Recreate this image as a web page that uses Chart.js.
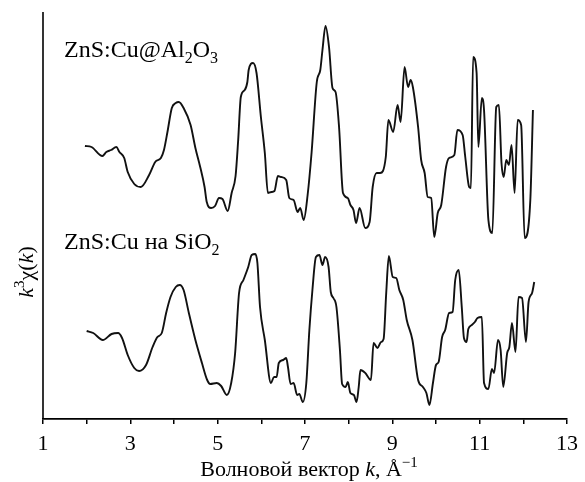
<!DOCTYPE html>
<html>
<head>
<meta charset="utf-8">
<script src="https://cdn.jsdelivr.net/npm/chart.js@4.4.1/dist/chart.umd.min.js"></script>
<style>
  body { margin: 0; background: #fff; }
  #wrap { width: 585px; height: 482px; }
</style>
</head>
<body>
<div id="wrap"><canvas id="chart" width="585" height="482"></canvas></div>
<script>
const SERIF = '"Liberation Serif", "Times New Roman", serif';

// x ticks (only odd ones get a label)
const kTicks = [1, 2, 3, 4, 5, 6, 7, 8, 9, 10, 11, 12, 13];

// ZnS:Cu@Al2O3 (upper curve, arbitrary units incl. offset)
const alK = [1.96, 2.11, 2.36, 2.45, 2.56, 2.68, 2.75, 2.86, 2.94, 3.09, 3.24, 3.43, 3.57, 3.70, 3.77, 3.85, 3.95, 4.04, 4.11, 4.22,
  4.38, 4.49, 4.60, 4.70, 4.75, 4.85, 4.94, 5.03, 5.11, 5.23, 5.32, 5.41, 5.47, 5.53, 5.62, 5.68, 5.71, 5.81, 5.89, 5.99,
  6.08, 6.15, 6.23, 6.30, 6.38, 6.45, 6.57, 6.64, 6.74, 6.83, 6.89, 6.97, 7.06, 7.15, 7.27, 7.35, 7.40, 7.47, 7.55, 7.63,
  7.70, 7.78, 7.87, 7.98, 8.04, 8.11, 8.17, 8.25, 8.38, 8.48, 8.55, 8.64, 8.72, 8.85, 8.91, 9.02, 9.12, 9.19, 9.28, 9.36,
  9.42, 9.47, 9.59, 9.66, 9.74, 9.81, 9.89, 9.96, 10.04, 10.12, 10.23, 10.30, 10.42, 10.49, 10.61, 10.67, 10.76, 10.80, 10.85, 10.93,
  10.97, 11.05, 11.10, 11.20, 11.29, 11.38, 11.44, 11.50, 11.55, 11.61, 11.67, 11.73, 11.80, 11.87, 11.95, 12.03, 12.16, 12.22];
const alY = [27.3, 27.2, 26.3, 26.7, 26.9, 27.2, 26.7, 26.1, 24.7, 23.5, 23.2, 24.4, 25.7, 26.1, 26.9, 28.7, 31.1, 31.6, 31.7, 31.1,
  29.4, 27.1, 25.2, 23.2, 21.7, 21.1, 21.3, 22.1, 22.0, 20.8, 22.6, 24.3, 27.9, 32.2, 32.9, 33.7, 34.9, 35.6, 34.6, 30.2,
  26.6, 22.6, 22.7, 22.8, 24.3, 24.2, 23.9, 22.1, 21.9, 20.7, 21.1, 19.9, 22.4, 26.6, 33.7, 34.9, 36.9, 39.3, 37.2, 33.1,
  32.7, 29.2, 22.6, 22.1, 21.4, 20.9, 19.6, 21.1, 19.1, 19.7, 23.2, 24.6, 24.6, 26.2, 29.9, 28.7, 31.4, 29.7, 35.2, 33.2,
  33.9, 33.2, 29.2, 25.9, 24.6, 22.2, 22.1, 18.2, 20.6, 21.4, 25.2, 26.1, 26.4, 28.9, 28.4, 26.2, 23.2, 23.1, 36.2, 34.6,
  27.2, 32.1, 30.9, 19.9, 18.6, 31.2, 31.4, 25.6, 24.2, 25.9, 25.4, 27.4, 22.6, 29.9, 29.4, 18.1, 21.9, 30.9];

// ZnS:Cu на SiO2 (lower curve)
const siK = [2.00, 2.15, 2.37, 2.57, 2.72, 2.81, 2.94, 3.09, 3.20, 3.36, 3.51, 3.62, 3.72, 3.82, 3.92, 4.04, 4.13, 4.22, 4.34, 4.49,
  4.64, 4.76, 4.83, 4.98, 5.08, 5.21, 5.31, 5.40, 5.49, 5.59, 5.70, 5.78, 5.86, 5.91, 5.97, 6.08, 6.22, 6.29, 6.35, 6.40,
  6.50, 6.57, 6.61, 6.67, 6.74, 6.82, 6.87, 6.95, 7.03, 7.10, 7.17, 7.25, 7.33, 7.40, 7.46, 7.54, 7.59, 7.65, 7.72, 7.80,
  7.85, 7.93, 7.98, 8.04, 8.12, 8.18, 8.23, 8.27, 8.38, 8.51, 8.57, 8.66, 8.74, 8.80, 8.86, 8.92, 9.01, 9.09, 9.16, 9.25,
  9.33, 9.46, 9.59, 9.70, 9.78, 9.85, 9.93, 10.00, 10.06, 10.14, 10.21, 10.30, 10.38, 10.44, 10.52, 10.59, 10.64, 10.70, 10.74, 10.82,
  10.89, 10.95, 11.05, 11.10, 11.20, 11.28, 11.33, 11.42, 11.48, 11.54, 11.63, 11.68, 11.74, 11.82, 11.89, 11.97, 12.06, 12.12, 12.20, 12.25];
const siY = [8.8, 8.6, 7.9, 8.5, 8.6, 8.1, 6.4, 5.1, 4.8, 5.4, 7.2, 8.2, 8.6, 10.6, 12.2, 13.2, 13.4, 12.9, 10.6, 7.9,
  5.6, 3.9, 3.5, 3.6, 3.3, 2.4, 3.6, 6.6, 12.6, 13.9, 15.2, 16.4, 16.5, 15.6, 11.2, 7.9, 3.6, 4.2, 4.2, 5.6,
  5.9, 6.1, 5.2, 3.5, 3.6, 2.4, 2.5, 1.7, 3.6, 8.9, 12.9, 16.2, 16.4, 15.4, 16.2, 15.2, 12.7, 12.1, 11.2, 6.9,
  3.5, 3.2, 3.7, 2.6, 2.4, 1.7, 3.2, 4.9, 4.6, 3.9, 7.6, 7.1, 7.7, 8.0, 12.6, 16.3, 14.2, 14.1, 12.9, 11.9,
  9.9, 7.9, 3.9, 3.2, 2.6, 1.4, 3.6, 5.4, 5.7, 8.2, 8.9, 10.6, 10.7, 13.9, 14.9, 11.2, 8.1, 7.7, 9.0, 9.4,
  9.7, 10.1, 10.2, 3.6, 3.0, 5.0, 4.6, 7.9, 6.9, 3.2, 6.6, 7.2, 9.6, 6.7, 12.2, 12.1, 7.7, 11.7, 12.6, 13.7];

const yMin = 0;
const yMax = 40.7;

function pts(xs, ys) {
  return xs.map((x, i) => ({ x: x, y: ys[i] }));
}

// draws a run of text pieces (italic / sub / sup) left to right
function drawRich(c, parts, x, y, size) {
  let cx = x;
  parts.forEach((p) => {
    const fs = p.small ? Math.round(size * 0.68) : size;
    c.font = `${p.it ? "italic " : ""}${fs}px ${SERIF}`;
    c.fillText(p.t, cx, y + (p.dy || 0));
    cx += c.measureText(p.t).width + (p.gap || 0);
  });
  return cx - x;
}

function richWidth(c, parts, size) {
  let w = 0;
  parts.forEach((p) => {
    const fs = p.small ? Math.round(size * 0.68) : size;
    c.font = `${p.it ? "italic " : ""}${fs}px ${SERIF}`;
    w += c.measureText(p.t).width + (p.gap || 0);
  });
  return w;
}

const textPlugin = {
  id: "texts",
  afterDraw(chart) {
    const c = chart.ctx;
    const area = chart.chartArea;
    c.save();
    c.fillStyle = "#000";
    c.textBaseline = "alphabetic";
    c.textAlign = "left";

    // left axis line
    c.strokeStyle = "#000";
    c.lineWidth = 1.6;
    c.beginPath();
    c.moveTo(area.left, area.top);
    c.lineTo(area.left, area.bottom);
    c.stroke();

    // series labels
    drawRich(c, [
      { t: "ZnS:Cu@Al" }, { t: "2", small: true, dy: 6 }, { t: "O" }, { t: "3", small: true, dy: 6 },
    ], 64, 57, 24);
    drawRich(c, [
      { t: "ZnS:Cu на SiO" }, { t: "2", small: true, dy: 6 },
    ], 64, 249, 24);

    // x title
    const xt = [
      { t: "Волновой вектор " }, { t: "k", it: true }, { t: ", Å" }, { t: "−1", small: true, dy: -9 },
    ];
    const w = richWidth(c, xt, 22);
    drawRich(c, xt, (area.left + area.right) / 2 - w / 2 + 4, 476, 22);

    // y title
    const yt = [
      { t: "k", it: true }, { t: "3", small: true, dy: -9 }, { t: "χ(" }, { t: "k", it: true }, { t: ")" },
    ];
    c.translate(33, 272);
    c.rotate(-Math.PI / 2);
    const wy = richWidth(c, yt, 22);
    drawRich(c, yt, -wy / 2, 0, 22);
    c.restore();
  },
};

const lineStyle = {
  showLine: true,
  borderColor: "#111",
  borderWidth: 1.9,
  pointRadius: 0,
  fill: false,
  cubicInterpolationMode: "monotone",
};

new Chart(document.getElementById("chart"), {
  type: "scatter",
  data: {
    datasets: [
      Object.assign({ label: "ZnS:Cu@Al2O3", data: pts(alK, alY) }, lineStyle),
      Object.assign({ label: "ZnS:Cu на SiO2", data: pts(siK, siY) }, lineStyle),
    ],
  },
  options: {
    responsive: false,
    animation: false,
    layout: { padding: { left: 43, right: 13, top: 12, bottom: 0 } },
    plugins: { legend: { display: false }, tooltip: { enabled: false } },
    scales: {
      x: {
        type: "linear",
        min: 1,
        max: 13,
        afterBuildTicks: (s) => { s.ticks = kTicks.map((v) => ({ value: v })); },
        afterFit: (s) => { s.height = 63; },
        ticks: {
          color: "#000",
          padding: 7,
          maxRotation: 0,
          autoSkip: false,
          font: { family: SERIF, size: 22 },
          callback: (v) => (v % 2 === 1 ? String(v) : ""),
        },
        grid: { drawOnChartArea: false, drawTicks: true, tickLength: 5, color: "#000", lineWidth: 1.5 },
        border: { display: true, color: "#000", width: 1.8 },
      },
      y: {
        display: false,
        min: yMin,
        max: yMax,
      },
    },
  },
  plugins: [textPlugin],
});
</script>
</body>
</html>
